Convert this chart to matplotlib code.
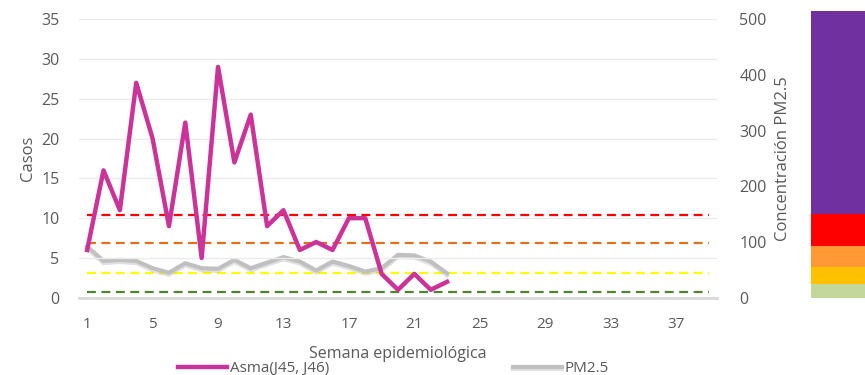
import matplotlib
matplotlib.use('Agg')
import matplotlib.pyplot as plt
import matplotlib.patheffects as pe

plt.rcParams['font.family'] = ['Open Sans', 'DejaVu Sans']

# Weekly data
weeks = list(range(1, 40))
shown_weeks = list(range(1, 24))
asma = [6, 16, 11, 27, 20, 9, 22, 5, 29, 17, 23, 9, 11, 6, 7, 6, 10, 10, 3, 1, 3, 1, 2]
pm25 = [92, 66, 68, 66, 53, 45, 62, 53, 52, 68, 53, 63, 73, 65, 49, 65, 57, 47, 53, 77, 76, 65, 44]
week_ticks = list(range(1, 39, 4))

# Reference levels for PM2.5 (right axis units)
ref_levels = [149, 98, 45, 11]
ref_colors = ['#FF0000', '#E0701E', '#FFFF00', '#548235']

# Color scale bar segments
band_bottoms = [0, 25, 55, 93, 150]
band_heights = [25, 30, 38, 57, 365]
band_colors = ['#C4D79B', '#FFC000', '#FF9933', '#FF0000', '#7030A0']

txt = '#595959'

fig = plt.figure(figsize=(8.65, 3.75), dpi=100)
ax = fig.add_axes([0.0913, 0.206, 0.7376, 0.743])
ax2 = ax.twinx()

ax.set_xlim(0.5, 39.5)
ax.set_ylim(0, 35)
ax2.set_ylim(0, 500)

ax.set_yticks(range(0, 36, 5))
ax.grid(axis='y', color='#EBEBEB', lw=1)
ax.set_axisbelow(True)
ax.set_xticks(week_ticks)

for a in (ax, ax2):
    for s in a.spines.values():
        s.set_visible(False)
    a.tick_params(length=0, labelsize=11.5, colors=txt)
ax.spines['bottom'].set_visible(True)
ax.spines['bottom'].set_color('#D9D9D9')
ax.spines['bottom'].set_linewidth(2)
ax.tick_params(axis='x', pad=14, labelsize=11)
ax.tick_params(axis='y', pad=14)
ax2.set_yticks(range(0, 501, 100))
ax2.tick_params(axis='y', pad=16)

for lvl, c in zip(ref_levels, ref_colors):
    ax2.plot(weeks, [lvl] * len(weeks), color=c, lw=1.6, ls=(0, (4, 2.5)))

ax2.plot(shown_weeks, pm25, color='#C0C0C0', lw=3, label='PM2.5',
         path_effects=[pe.SimpleLineShadow(offset=(0, -1.5), shadow_color='#999999', alpha=0.3),
                       pe.Normal()])
ln, = ax.plot(shown_weeks, asma, color='#CC3399', lw=3.2, label='Asma(J45, J46)')
ax.set_zorder(ax2.get_zorder() + 1)
ax.patch.set_visible(False)

ax.set_ylabel('Casos', color=txt, fontsize=12, labelpad=4)
ax2.set_ylabel('Concentración PM2.5', color=txt, fontsize=12, labelpad=6)
ax.set_xlabel('Semana epidemiológica', color=txt, fontsize=11.5, labelpad=10)

handles = [ln, ax2.lines[-1]]
fig.legend(handles, [h.get_label() for h in handles], loc='lower center',
           bbox_to_anchor=(0.455, -0.04), ncol=2, frameon=False, fontsize=11,
           handlelength=3.2, columnspacing=12, labelcolor=txt, handletextpad=0.2)

# Color scale bar on the far right
axb = fig.add_axes([0.9376, 0.206, 0.0624, 0.743])
axb.set_xlim(0, 1)
axb.set_ylim(0, 500)
axb.bar([0.5] * len(band_heights), band_heights, bottom=band_bottoms, width=1,
        color=band_colors, clip_on=False)
axb.axis('off')

fig.savefig('out.png', dpi=100)
